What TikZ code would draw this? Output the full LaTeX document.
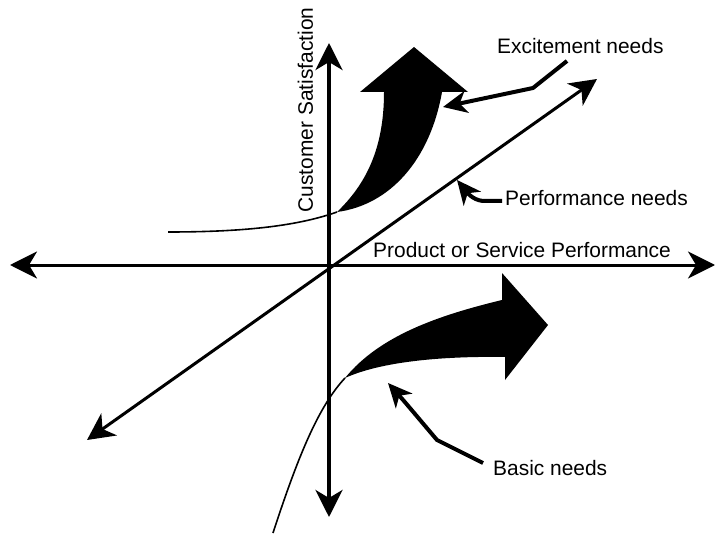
\documentclass[tikz,border=0pt]{standalone}
\usepackage{fontspec}
\setmainfont{Liberation Sans}
\usetikzlibrary{arrows.meta}
\tikzset{
  bigtip/.tip={Stealth[length=27bp,width=27bp,inset=8bp]},
  smalltip/.tip={Stealth[length=24bp,width=22bp,inset=7bp]}
}
\begin{document}
\begin{tikzpicture}[x=1bp,y=-1bp,
    axis/.style={line width=3bp,bigtip-bigtip},
    pointer/.style={line width=4bp,line join=round,-smalltip},
    thinline/.style={line width=1.6bp},
    lbl/.style={font=\fontsize{21}{24}\selectfont,inner sep=0pt}]
  \useasboundingbox (0,0) rectangle (716,535);
  \coordinate (O) at (329,265);
  \coordinate (L) at (10,265);
  \coordinate (R) at (715,265);
  \coordinate (T) at (329,43);
  \coordinate (B) at (329,517);
  \coordinate (DL) at (87,440);
  \coordinate (DR) at (597,79);
  \draw[axis] (L) -- (R);
  \draw[axis,line width=4bp] (B) -- (T);
  \draw[axis] (DL) -- (DR);
  % excitement needs
  \coordinate (E0) at (337,212);
  \fill (E0) .. controls (365,185) and (384,150) .. (384,92) -- (360,92) -- (414,47)
    -- (468,92) -- (442,92) .. controls (430,160) and (390,205) .. (E0) -- cycle;
  \draw[thinline] (168,232) .. controls (250,232) and (300,225) .. (E0);
  % basic needs
  \coordinate (B0) at (345,378);
  \fill (B0) .. controls (380,335) and (440,315) .. (502,300) -- (502,273) -- (548,325)
    -- (505,380) -- (505,357) .. controls (440,356) and (380,362) .. (B0) -- cycle;
  \draw[thinline] (273,533) .. controls (300,450) and (320,405) .. (B0);
  % labels
  \node[lbl,anchor=base west] (exc) at (497,54) {Excitement needs};
  \node[lbl,anchor=base west] (perf) at (505,206) {Performance needs};
  \node[lbl,anchor=base west] (basic) at (493,475) {Basic needs};
  \node[lbl,anchor=base west] (prod) at (373,258) {Product or Service Performance};
  \node[lbl,rotate=90] (sat) at (305.5,110) {Customer Satisfaction};
  % pointers
  \coordinate (e1) at (567,61);
  \coordinate (e2) at (533,88);
  \coordinate (e3) at (443,107);
  \coordinate (p1) at (502,201);
  \coordinate (p2) at (483,201);
  \coordinate (p3) at (457,180);
  \coordinate (b1) at (483,463);
  \coordinate (b2) at (437,440);
  \coordinate (b3) at (388,383);
  \draw[pointer] (e1) -- (e2) -- (e3);
  \draw[pointer] (p1) -- (p2) .. controls (472,200) and (466,191) .. (p3);
  \draw[pointer] (b1) -- (b2) .. controls (420,420) and (405,402) .. (b3);
\end{tikzpicture}
\end{document}
